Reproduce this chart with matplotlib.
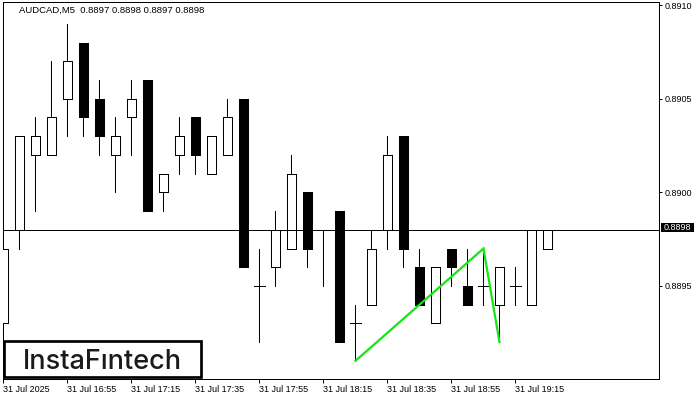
import matplotlib
matplotlib.use('Agg')
import matplotlib.pyplot as plt
from matplotlib.patches import Rectangle

# ---------------- data ----------------
symbol = "AUDCAD,M5"
opens  = [0.8893, 0.8898, 0.8902, 0.8902, 0.8905, 0.8908, 0.8905, 0.8902, 0.8904, 0.8906,
          0.8900, 0.8902, 0.8904, 0.8901, 0.8902, 0.8905, 0.8895, 0.8896, 0.8897, 0.8900,
          0.8898, 0.8899, 0.8893, 0.8894, 0.8898, 0.8903, 0.8896, 0.8893, 0.8897, 0.8895,
          0.8895, 0.8894, 0.8895, 0.8894, 0.8897]
highs  = [0.8898, 0.8903, 0.8904, 0.8907, 0.8909, 0.8908, 0.8906, 0.8904, 0.8906, 0.8906,
          0.8901, 0.8904, 0.8904, 0.8903, 0.8905, 0.8905, 0.8897, 0.8899, 0.8902, 0.8900,
          0.8898, 0.8899, 0.8894, 0.8898, 0.8903, 0.8903, 0.8897, 0.8896, 0.8897, 0.8897,
          0.8897, 0.8896, 0.8896, 0.8898, 0.8898]
lows   = [0.8893, 0.8897, 0.8899, 0.8902, 0.8903, 0.8903, 0.8902, 0.8900, 0.8902, 0.8899,
          0.8899, 0.8901, 0.8901, 0.8901, 0.8902, 0.8896, 0.8892, 0.8895, 0.8897, 0.8896,
          0.8895, 0.8892, 0.8891, 0.8894, 0.8897, 0.8896, 0.8894, 0.8893, 0.8895, 0.8894,
          0.8894, 0.8892, 0.8894, 0.8894, 0.8897]
closes = [0.8897, 0.8903, 0.8903, 0.8904, 0.8907, 0.8904, 0.8903, 0.8903, 0.8905, 0.8899,
          0.8901, 0.8903, 0.8902, 0.8903, 0.8904, 0.8896, 0.8895, 0.8898, 0.8901, 0.8897,
          0.8898, 0.8892, 0.8893, 0.8897, 0.8902, 0.8897, 0.8894, 0.8896, 0.8896, 0.8894,
          0.8895, 0.8896, 0.8895, 0.8898, 0.8898]
time_label_idx = [0, 4, 8, 12, 16, 20, 24, 28, 32]
time_labels = ["31 Jul 2025", "31 Jul 16:55", "31 Jul 17:15", "31 Jul 17:35",
               "31 Jul 17:55", "31 Jul 18:15", "31 Jul 18:35", "31 Jul 18:55", "31 Jul 19:15"]
price_ticks = [0.8895, 0.8900, 0.8905, 0.8910]
current_price = 0.8898
pattern_idx = [22, 30, 31]
pattern_price = [0.8891, 0.8897, 0.8892]
logo_text = "InstaF\u0131ntech"

# ---------------- figure ----------------
W, H = 700, 400
plt.rcParams['font.family'] = ['Liberation Sans', 'DejaVu Sans']
fig = plt.figure(figsize=(W / 100, H / 100), dpi=100)
fig.patch.set_facecolor('white')
ax = fig.add_axes([3 / W, (H - 379) / H, 656 / W, 377 / H])
ax.set_facecolor('white')

px = 0.72  # 1 pixel in points
body_w = 0.6

for i, (o, h, l, c) in enumerate(zip(opens, highs, lows, closes)):
    ax.vlines(i, l, h, colors='black', linewidth=px, zorder=2, antialiased=False)
    if o == c:
        ax.hlines(o, i - body_w / 2 - 0.03, i + body_w / 2 + 0.03, colors='black',
                  linewidth=px, zorder=3, antialiased=False)
    else:
        face = 'white' if c > o else 'black'
        ax.add_patch(Rectangle((i - body_w / 2, min(o, c)), body_w, abs(c - o),
                               facecolor=face, edgecolor='black', linewidth=px,
                               zorder=3, antialiased=False))

ax.axhline(current_price, color='black', linewidth=px, zorder=4, antialiased=False)
ax.plot(pattern_idx, pattern_price, color='#14e614', linewidth=1.6, zorder=5,
        solid_joinstyle='miter')

ax.set_xlim(-0.03, 40.97)
ax.set_ylim(0.889003, 0.891017)

for s in ax.spines.values():
    s.set_color('black')
    s.set_linewidth(px)

ax.yaxis.tick_right()
ax.set_yticks(price_ticks)
ax.set_yticklabels([f"{p:.4f}" for p in price_ticks])
ax.tick_params(axis='y', direction='out', length=3 * px, width=px, pad=2.5 * px,
               labelsize=6.5, colors='black')
ax.set_xticks(time_label_idx)
ax.set_xticklabels(time_labels, ha='left')
ax.tick_params(axis='x', direction='out', length=4 * px, width=px, pad=2 * px,
               labelsize=6.5, colors='black')

# header text
title = f"{symbol}  {opens[-1]:.4f} {highs[-1]:.4f} {lows[-1]:.4f} {closes[-1]:.4f}"
fig.text(19 / W, 1 - 10.8 / H, title, ha='left', va='center', fontsize=6.8, color='black')

# current price label
fig.patches.append(Rectangle((661 / W, 1 - 231.5 / H), 33 / W, 8.5 / H,
                             transform=fig.transFigure, facecolor='black',
                             edgecolor='none', zorder=10))
fig.text(677.5 / W, 1 - 227.3 / H, f"{current_price:.4f}", ha='center', va='center',
         fontsize=6.5, color='white', zorder=11)

# logo
fig.patches.append(Rectangle((4 / W, 1 - 377 / H), 197 / W, 35.7 / H,
                             transform=fig.transFigure, facecolor='white',
                             edgecolor='black', linewidth=2.7 * px, zorder=10))
fig.text(102.7 / W, 1 - 369.3 / H, logo_text, ha='center', va='baseline',
         fontsize=19.5, color='#1a1a1a', family=['Inter', 'DejaVu Sans'],
         fontweight='medium', zorder=11)

fig.savefig('out.png', dpi=100)
